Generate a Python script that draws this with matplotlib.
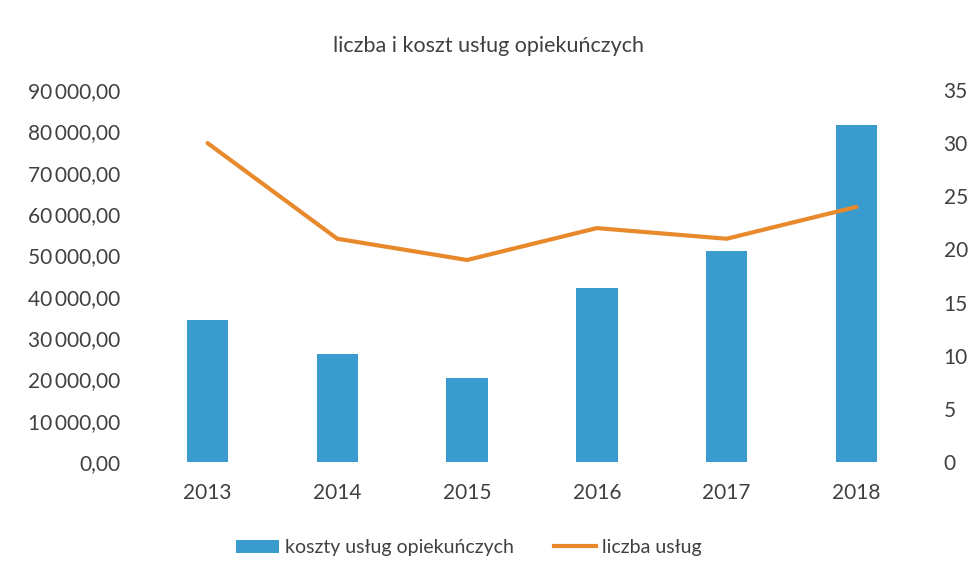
import matplotlib
matplotlib.use("Agg")
import matplotlib.pyplot as plt
from matplotlib.ticker import FuncFormatter
from matplotlib.patches import Patch
from matplotlib.lines import Line2D

years = ["2013", "2014", "2015", "2016", "2017", "2018"]
koszty = [34400, 26000, 20400, 42100, 51100, 81600]
liczba = [30, 21, 19, 22, 21, 24]

left_ticks = list(range(0, 90001, 10000))
right_ticks = list(range(0, 36, 5))

BAR = "#3a9bcf"
LINE = "#e8892b"
TXT = "#404040"

plt.rcParams["font.family"] = ["Lato", "DejaVu Sans"]

fig = plt.figure(figsize=(9.77, 5.84), dpi=100)
ax = fig.add_axes([0.146, 0.209, 0.797, 0.637])
ax2 = ax.twinx()

x = list(range(len(years)))
ax.bar(x, koszty, width=0.32, color=BAR, zorder=2)
ax2.plot(x, liczba, color=LINE, linewidth=3, solid_capstyle="round", zorder=3)

ax.set_xlim(-0.5, len(years) - 0.5)
ax.set_ylim(0, 90000)
ax2.set_ylim(0, 35)
ax.set_yticks(left_ticks)
ax2.set_yticks(right_ticks)
ax.set_xticks(x)
ax.set_xticklabels(years)


def pl_fmt(v, _pos):
    s = f"{v:,.2f}".replace(",", "\u2009").replace(".", ",")
    return s


ax.yaxis.set_major_formatter(FuncFormatter(pl_fmt))

for a in (ax, ax2):
    for sp in a.spines.values():
        sp.set_visible(False)
    a.tick_params(length=0, labelsize=15, colors=TXT)
ax.tick_params(axis="y", pad=16)
ax.tick_params(axis="x", pad=15)
ax2.tick_params(axis="y", pad=16)

fig.text(0.5, 0.922, "liczba i koszt usług opiekuńczych", ha="center",
         va="center", fontsize=15.5, color=TXT)

handles = [Patch(facecolor=BAR, edgecolor="none"),
           Line2D([0], [0], color=LINE, linewidth=3)]
fig.legend(handles, ["koszty usług opiekuńczych", "liczba usług"],
           loc="center", bbox_to_anchor=(0.48, 0.062), ncol=2, frameon=False,
           fontsize=14, labelcolor=TXT, handlelength=2.2, handletextpad=0.3,
           columnspacing=2.05)

fig.savefig("out.png", dpi=100, facecolor="white")
